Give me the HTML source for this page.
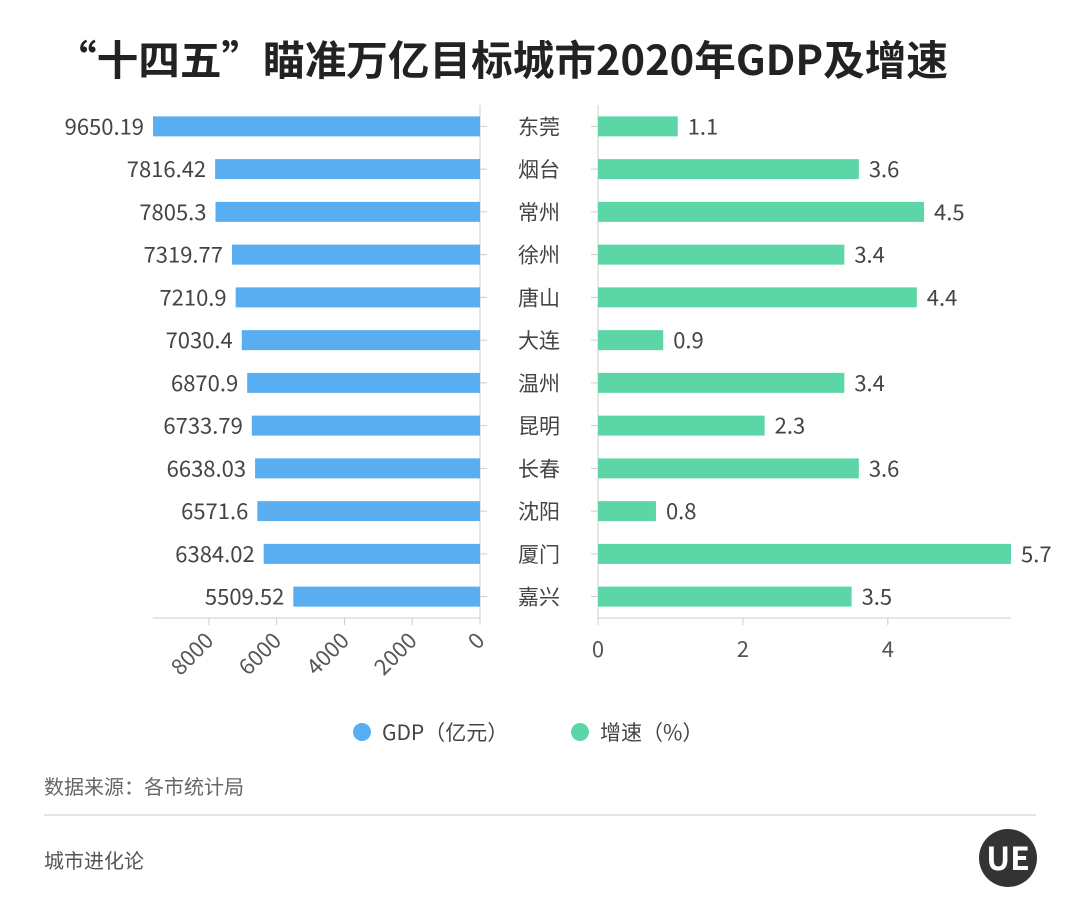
<!DOCTYPE html>
<html><head><meta charset="utf-8">
<style>
body{margin:0;background:#fff;}
svg text{font-family:"Noto Sans CJK SC","Liberation Sans",sans-serif;}
</style></head>
<body>
<svg id="chart" width="1080" height="918" viewBox="0 0 1080 918">
<text x="55" y="75" font-size="41" font-weight="bold" fill="#222" textLength="893" lengthAdjust="spacingAndGlyphs">“十四五”瞄准万亿目标城市2020年GDP及增速</text>
<g id="marks"></g>
<circle cx="362" cy="732" r="9" fill="#58aef0"/>
<text x="382" y="740" font-size="21" fill="#444">GDP（亿元）</text>
<circle cx="580" cy="732" r="9" fill="#5cd6a6"/>
<text x="600" y="740" font-size="21" fill="#444">增速（%）</text>
<text x="44" y="794" font-size="20" fill="#666">数据来源：各市统计局</text>
<line x1="44" y1="815" x2="1036" y2="815" stroke="#ccc" stroke-width="1"/>
<text x="44" y="868" font-size="20" fill="#555">城市进化论</text>
<circle cx="1008" cy="858" r="29" fill="#333"/>
<text x="1008" y="870" font-size="32" font-weight="bold" fill="#fff" text-anchor="middle">UE</text>
</svg>
<script>
const cities=["东莞","烟台","常州","徐州","唐山","大连","温州","昆明","长春","沈阳","厦门","嘉兴"];
const gdp=[9650.19,7816.42,7805.3,7319.77,7210.9,7030.4,6870.9,6733.79,6638.03,6571.6,6384.02,5509.52];
const growth=[1.1,3.6,4.5,3.4,4.4,0.9,3.4,2.3,3.6,0.8,5.7,3.5];
const gdpTicks=[0,2000,4000,6000,8000];
const growthTicks=[0,2,4];
const NS="http://www.w3.org/2000/svg";
const g=document.getElementById('marks');
const L0=480,Lk=(480-153)/9650.19,R0=598,Rk=(1011-598)/5.7;
const xL=v=>L0-v*Lk, xR=v=>R0+v*Rk;
const y0=105,step=(618-105)/cities.length;
const yC=i=>y0+step*(i+0.5);
function el(t,a){const e=document.createElementNS(NS,t);for(const k in a)e.setAttribute(k,a[k]);g.appendChild(e);return e;}
let e;
e=el('line',{x1:153,y1:618,x2:L0,y2:618,stroke:'#ccc'});


e=el('line',{x1:L0,y1:y0,x2:L0,y2:618,stroke:'#ccc'});


e=el('line',{x1:R0,y1:618,x2:1011,y2:618,stroke:'#ccc'});


e=el('line',{x1:R0,y1:y0,x2:R0,y2:618,stroke:'#ccc'});


gdpTicks.forEach(t=>{
  const x=xL(t);
  e=el('line',{x1:x,y1:618,x2:x,y2:625,stroke:'#ccc'});
  
  
  e=el('text',{x:x+6,y:642,'font-size':22,fill:'#555','text-anchor':'end',transform:`rotate(-45 ${x+6} 642)`});
  e.textContent=t;
  
  
});
growthTicks.forEach(t=>{
  const x=xR(t);
  e=el('line',{x1:x,y1:618,x2:x,y2:625,stroke:'#ccc'});
  
  
  e=el('text',{x:x,y:657,'font-size':22,fill:'#555','text-anchor':'middle'});
  e.textContent=t;
  
  
});
cities.forEach((c,i)=>{
  const y=yC(i);
  el('line',{x1:L0,y1:y,x2:L0+7,y2:y,stroke:'#ccc'});
  el('line',{x1:R0-7,y1:y,x2:R0,y2:y,stroke:'#ccc'});
  e=el('rect',{x:xL(gdp[i]),y:y-10,width:L0-xL(gdp[i]),height:20,fill:'#58aef0'});
  
  
  e=el('text',{x:xL(gdp[i])-9,y:y+8,'font-size':22,fill:'#444','text-anchor':'end'});
  e.textContent=gdp[i];
  
  
  e=el('rect',{x:R0,y:y-10,width:xR(growth[i])-R0,height:20,fill:'#5cd6a6'});
  
  
  e=el('text',{x:xR(growth[i])+10,y:y+8,'font-size':22,fill:'#444'});
  e.textContent=growth[i];
  
  
  e=el('text',{x:539,y:y+8,'font-size':21,fill:'#444','text-anchor':'middle'});
  e.textContent=c;
  
  
});
</script>
</body></html>
